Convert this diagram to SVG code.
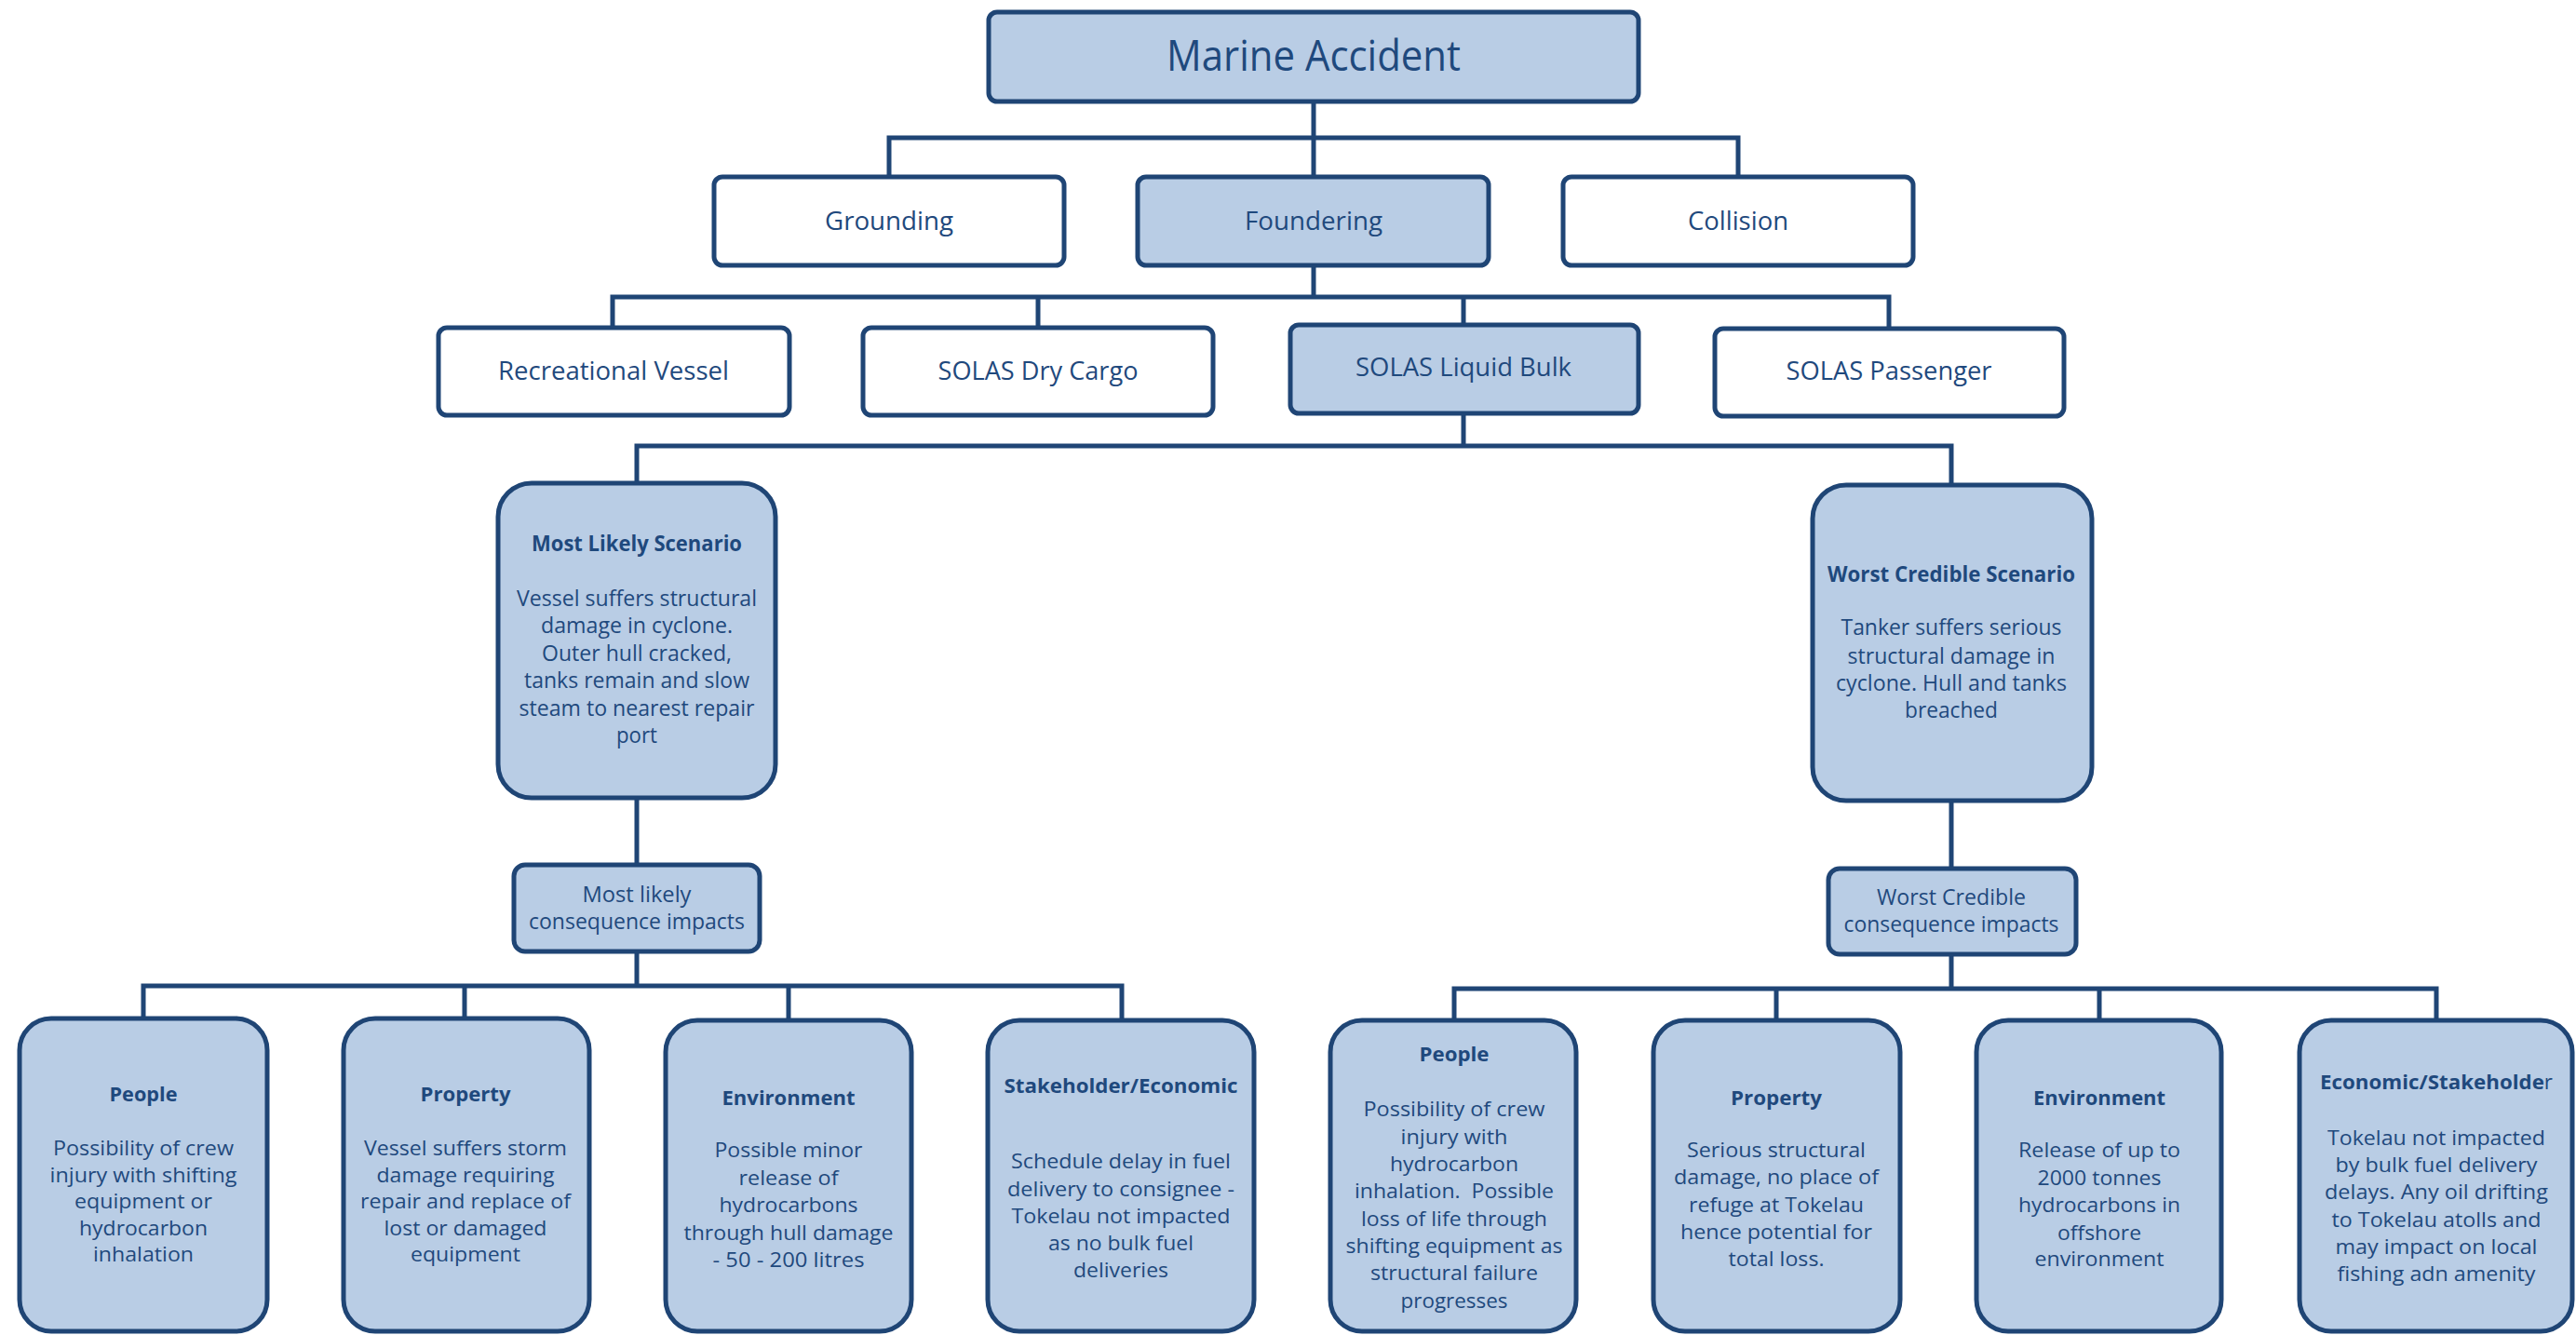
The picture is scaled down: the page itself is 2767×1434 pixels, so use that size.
<svg xmlns="http://www.w3.org/2000/svg" width="2767" height="1434" viewBox="0 0 2767 1434">
  <style>
    .bg { fill: #ffffff; }
    .box { stroke: #1F4575; stroke-width: 5; }
    .blue { fill: #B9CDE5; }
    .white { fill: #ffffff; }
    .wire { fill: none; stroke: #1F4575; stroke-width: 5; stroke-linejoin: miter; stroke-linecap: square; }
    text { font-family: "Open Sans", "Noto Sans", "Liberation Sans", sans-serif; fill: #1F497D; text-anchor: middle; }
    .h1 { font-size: 46px; }
    .h2 { font-size: 28px; }
    .sc { font-size: 23px; }
    .sct { font-size: 23px; font-weight: bold; }
    .cq { font-size: 23px; }
    .bt { font-size: 22px; font-weight: bold; }
    .bb { font-size: 22px; }
    .reg { font-weight: normal; }
  </style>
  <rect class="bg" x="0" y="0" width="2767" height="1434"/>

  <!-- connectors -->
  <g id="connectors">
    <path class="wire" d="M1411,109 V148 M955,148 H1867 M955,148 V191 M1411,148 V191 M1867,148 V191"/>
    <path class="wire" d="M1411,285 V319 M658,319 H2029 M658,319 V351 M1115,319 V351 M1572,319 V348 M2029,319 V352"/>
    <path class="wire" d="M1572,445 V479 M684,479 H2096 M684,479 V519 M2096,479 V521"/>
    <path class="wire" d="M684,857 V929 M2096,860 V933"/>
    <path class="wire" d="M684,1022 V1059 M154,1059 H1205 M154,1059 V1094 M499,1059 V1094 M847,1059 V1096 M1205,1059 V1096"/>
    <path class="wire" d="M2096,1025 V1062 M1562,1062 H2617 M1562,1062 V1096 M1908,1062 V1096 M2255,1062 V1096 M2617,1062 V1096"/>
  </g>

  <!-- level 0 -->
  <g id="marine-accident">
    <rect class="box blue" x="1062" y="13" width="698" height="96" rx="9"/>
    <text class="h1" x="1411" y="76" textLength="316" lengthAdjust="spacingAndGlyphs">Marine Accident</text>
  </g>

  <!-- level 1 -->
  <g id="grounding">
    <rect class="box white" x="767" y="190" width="376" height="95" rx="9"/>
    <text class="h2" x="955" y="247" textLength="138" lengthAdjust="spacingAndGlyphs">Grounding</text>
  </g>
  <g id="foundering">
    <rect class="box blue" x="1222" y="190" width="377" height="95" rx="9"/>
    <text class="h2" x="1411" y="247" textLength="148" lengthAdjust="spacingAndGlyphs">Foundering</text>
  </g>
  <g id="collision">
    <rect class="box white" x="1679" y="190" width="376" height="95" rx="9"/>
    <text class="h2" x="1867" y="247" textLength="108" lengthAdjust="spacingAndGlyphs">Collision</text>
  </g>

  <!-- level 2 -->
  <g id="recreational-vessel">
    <rect class="box white" x="471" y="352" width="377" height="94" rx="9"/>
    <text class="h2" x="659" y="408" textLength="248" lengthAdjust="spacingAndGlyphs">Recreational Vessel</text>
  </g>
  <g id="solas-dry-cargo">
    <rect class="box white" x="927" y="352" width="376" height="94" rx="9"/>
    <text class="h2" x="1115" y="408" textLength="215" lengthAdjust="spacingAndGlyphs">SOLAS Dry Cargo</text>
  </g>
  <g id="solas-liquid-bulk">
    <rect class="box blue" x="1386" y="349" width="374" height="95" rx="9"/>
    <text class="h2" x="1572" y="404" textLength="232" lengthAdjust="spacingAndGlyphs">SOLAS Liquid Bulk</text>
  </g>
  <g id="solas-passenger">
    <rect class="box white" x="1842" y="353" width="375" height="94" rx="9"/>
    <text class="h2" x="2029" y="408" textLength="221" lengthAdjust="spacingAndGlyphs">SOLAS Passenger</text>
  </g>

  <!-- scenarios -->
  <g id="most-likely-scenario">
    <rect class="box blue" x="535" y="519" width="298" height="338" rx="36"/>
    <text class="sct" x="684" y="592" textLength="226" lengthAdjust="spacingAndGlyphs">Most Likely Scenario</text>
    <text class="sc" x="684" y="651" textLength="258" lengthAdjust="spacingAndGlyphs">Vessel suffers structural</text>
    <text class="sc" x="684" y="680" textLength="206" lengthAdjust="spacingAndGlyphs">damage in cyclone.</text>
    <text class="sc" x="684" y="710" textLength="204" lengthAdjust="spacingAndGlyphs">Outer hull cracked,</text>
    <text class="sc" x="684" y="739" textLength="242" lengthAdjust="spacingAndGlyphs">tanks remain and slow</text>
    <text class="sc" x="684" y="769" textLength="253" lengthAdjust="spacingAndGlyphs">steam to nearest repair</text>
    <text class="sc" x="684" y="798" textLength="44" lengthAdjust="spacingAndGlyphs">port</text>
  </g>
  <g id="worst-credible-scenario">
    <rect class="box blue" x="1947" y="521" width="300" height="339" rx="36"/>
    <text class="sct" x="2096" y="625" textLength="266" lengthAdjust="spacingAndGlyphs">Worst Credible Scenario</text>
    <text class="sc" x="2096" y="682" textLength="237" lengthAdjust="spacingAndGlyphs">Tanker suffers serious</text>
    <text class="sc" x="2096" y="713" textLength="223" lengthAdjust="spacingAndGlyphs">structural damage in</text>
    <text class="sc" x="2096" y="742" textLength="248" lengthAdjust="spacingAndGlyphs">cyclone. Hull and tanks</text>
    <text class="sc" x="2096" y="771" textLength="100" lengthAdjust="spacingAndGlyphs">breached</text>
  </g>

  <!-- consequence headers -->
  <g id="most-likely-consequence">
    <rect class="box blue" x="552" y="929" width="264" height="93" rx="12"/>
    <text class="cq" x="684" y="969" textLength="117" lengthAdjust="spacingAndGlyphs">Most likely</text>
    <text class="cq" x="684" y="998" textLength="232" lengthAdjust="spacingAndGlyphs">consequence impacts</text>
  </g>
  <g id="worst-credible-consequence">
    <rect class="box blue" x="1964" y="933" width="266" height="92" rx="12"/>
    <text class="cq" x="2096" y="972" textLength="160" lengthAdjust="spacingAndGlyphs">Worst Credible</text>
    <text class="cq" x="2096" y="1001" textLength="231" lengthAdjust="spacingAndGlyphs">consequence impacts</text>
  </g>

  <!-- most likely impacts -->
  <g id="ml-people">
    <rect class="box blue" x="21" y="1094" width="266" height="336" rx="34"/>
    <text class="bt" x="154" y="1183" textLength="73" lengthAdjust="spacingAndGlyphs">People</text>
    <text class="bb" x="154" y="1241" textLength="194" lengthAdjust="spacingAndGlyphs">Possibility of crew</text>
    <text class="bb" x="154" y="1270" textLength="201" lengthAdjust="spacingAndGlyphs">injury with shifting</text>
    <text class="bb" x="154" y="1298" textLength="148" lengthAdjust="spacingAndGlyphs">equipment or</text>
    <text class="bb" x="154" y="1327" textLength="138" lengthAdjust="spacingAndGlyphs">hydrocarbon</text>
    <text class="bb" x="154" y="1355" textLength="108" lengthAdjust="spacingAndGlyphs">inhalation</text>
  </g>
  <g id="ml-property">
    <rect class="box blue" x="369" y="1094" width="264" height="336" rx="34"/>
    <text class="bt" x="500" y="1183" textLength="97" lengthAdjust="spacingAndGlyphs">Property</text>
    <text class="bb" x="500" y="1241" textLength="218" lengthAdjust="spacingAndGlyphs">Vessel suffers storm</text>
    <text class="bb" x="500" y="1270" textLength="191" lengthAdjust="spacingAndGlyphs">damage requiring</text>
    <text class="bb" x="500" y="1298" textLength="226" lengthAdjust="spacingAndGlyphs">repair and replace of</text>
    <text class="bb" x="500" y="1327" textLength="175" lengthAdjust="spacingAndGlyphs">lost or damaged</text>
    <text class="bb" x="500" y="1355" textLength="118" lengthAdjust="spacingAndGlyphs">equipment</text>
  </g>
  <g id="ml-environment">
    <rect class="box blue" x="715" y="1096" width="264" height="334" rx="34"/>
    <text class="bt" x="847" y="1187" textLength="143" lengthAdjust="spacingAndGlyphs">Environment</text>
    <text class="bb" x="847" y="1243" textLength="159" lengthAdjust="spacingAndGlyphs">Possible minor</text>
    <text class="bb" x="847" y="1273" textLength="107" lengthAdjust="spacingAndGlyphs">release of</text>
    <text class="bb" x="847" y="1302" textLength="149" lengthAdjust="spacingAndGlyphs">hydrocarbons</text>
    <text class="bb" x="847" y="1332" textLength="225" lengthAdjust="spacingAndGlyphs">through hull damage</text>
    <text class="bb" x="847" y="1361" textLength="163" lengthAdjust="spacingAndGlyphs">- 50 - 200 litres</text>
  </g>
  <g id="ml-stakeholder">
    <rect class="box blue" x="1061" y="1096" width="286" height="334" rx="34"/>
    <text class="bt" x="1204" y="1174" textLength="251" lengthAdjust="spacingAndGlyphs">Stakeholder/Economic</text>
    <text class="bb" x="1204" y="1255" textLength="236" lengthAdjust="spacingAndGlyphs">Schedule delay in fuel</text>
    <text class="bb" x="1204" y="1285" textLength="244" lengthAdjust="spacingAndGlyphs">delivery to consignee -</text>
    <text class="bb" x="1204" y="1314" textLength="235" lengthAdjust="spacingAndGlyphs">Tokelau not impacted</text>
    <text class="bb" x="1204" y="1343" textLength="156" lengthAdjust="spacingAndGlyphs">as no bulk fuel</text>
    <text class="bb" x="1204" y="1372" textLength="102" lengthAdjust="spacingAndGlyphs">deliveries</text>
  </g>

  <!-- worst credible impacts -->
  <g id="wc-people">
    <rect class="box blue" x="1429" y="1096" width="264" height="334" rx="34"/>
    <text class="bt" x="1562" y="1140" textLength="75" lengthAdjust="spacingAndGlyphs">People</text>
    <text class="bb" x="1562" y="1199" textLength="195" lengthAdjust="spacingAndGlyphs">Possibility of crew</text>
    <text class="bb" x="1562" y="1229" textLength="115" lengthAdjust="spacingAndGlyphs">injury with</text>
    <text class="bb" x="1562" y="1258" textLength="138" lengthAdjust="spacingAndGlyphs">hydrocarbon</text>
    <text class="bb" x="1562" y="1287" textLength="214" lengthAdjust="spacingAndGlyphs" xml:space="preserve">inhalation.  Possible</text>
    <text class="bb" x="1562" y="1317" textLength="200" lengthAdjust="spacingAndGlyphs">loss of life through</text>
    <text class="bb" x="1562" y="1346" textLength="233" lengthAdjust="spacingAndGlyphs">shifting equipment as</text>
    <text class="bb" x="1562" y="1375" textLength="180" lengthAdjust="spacingAndGlyphs">structural failure</text>
    <text class="bb" x="1562" y="1405" textLength="115" lengthAdjust="spacingAndGlyphs">progresses</text>
  </g>
  <g id="wc-property">
    <rect class="box blue" x="1776" y="1096" width="265" height="334" rx="34"/>
    <text class="bt" x="1908" y="1187" textLength="98" lengthAdjust="spacingAndGlyphs">Property</text>
    <text class="bb" x="1908" y="1243" textLength="192" lengthAdjust="spacingAndGlyphs">Serious structural</text>
    <text class="bb" x="1908" y="1272" textLength="220" lengthAdjust="spacingAndGlyphs">damage, no place of</text>
    <text class="bb" x="1908" y="1302" textLength="188" lengthAdjust="spacingAndGlyphs">refuge at Tokelau</text>
    <text class="bb" x="1908" y="1331" textLength="206" lengthAdjust="spacingAndGlyphs">hence potential for</text>
    <text class="bb" x="1908" y="1360" textLength="103" lengthAdjust="spacingAndGlyphs">total loss.</text>
  </g>
  <g id="wc-environment">
    <rect class="box blue" x="2123" y="1096" width="263" height="334" rx="34"/>
    <text class="bt" x="2255" y="1187" textLength="142" lengthAdjust="spacingAndGlyphs">Environment</text>
    <text class="bb" x="2255" y="1243" textLength="174" lengthAdjust="spacingAndGlyphs">Release of up to</text>
    <text class="bb" x="2255" y="1273" textLength="133" lengthAdjust="spacingAndGlyphs">2000 tonnes</text>
    <text class="bb" x="2255" y="1302" textLength="174" lengthAdjust="spacingAndGlyphs">hydrocarbons in</text>
    <text class="bb" x="2255" y="1332" textLength="90" lengthAdjust="spacingAndGlyphs">offshore</text>
    <text class="bb" x="2255" y="1360" textLength="139" lengthAdjust="spacingAndGlyphs">environment</text>
  </g>
  <g id="wc-economic">
    <rect class="box blue" x="2470" y="1096" width="293" height="334" rx="34"/>
    <text class="bt" x="2617" y="1170" textLength="250" lengthAdjust="spacingAndGlyphs">Economic/Stakeholde<tspan class="reg">r</tspan></text>
    <text class="bb" x="2617" y="1230" textLength="234" lengthAdjust="spacingAndGlyphs">Tokelau not impacted</text>
    <text class="bb" x="2617" y="1259" textLength="217" lengthAdjust="spacingAndGlyphs">by bulk fuel delivery</text>
    <text class="bb" x="2617" y="1288" textLength="240" lengthAdjust="spacingAndGlyphs">delays. Any oil drifting</text>
    <text class="bb" x="2617" y="1318" textLength="225" lengthAdjust="spacingAndGlyphs">to Tokelau atolls and</text>
    <text class="bb" x="2617" y="1347" textLength="217" lengthAdjust="spacingAndGlyphs">may impact on local</text>
    <text class="bb" x="2617" y="1376" textLength="213" lengthAdjust="spacingAndGlyphs">fishing adn amenity</text>
  </g>
</svg>
